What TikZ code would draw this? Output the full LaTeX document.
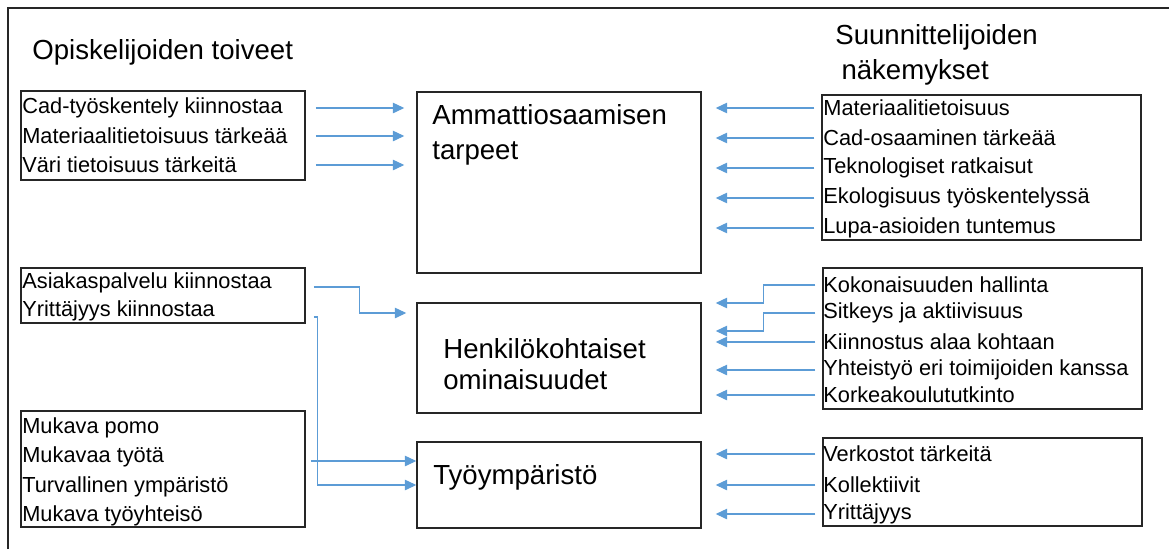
\documentclass[tikz,border=0pt]{standalone}
\usepackage{fontspec}
\setmainfont{Liberation Sans}
\usetikzlibrary{calc}
\usetikzlibrary{arrows.meta}
\definecolor{linkblue}{rgb}{0.36, 0.61, 0.84}
\definecolor{framegray}{rgb}{0.15, 0.15, 0.15}

\begin{document}
\begin{tikzpicture}[x=0.02cm,y=-0.02cm,
        box/.style={draw=framegray,line width=0.9pt,minimum width=5.68cm,inner sep=0pt},
        rbox/.style={box,minimum width=6.38cm},
        item/.style={anchor=west,inner sep=0pt,font=\fontsize{12.4}{14}\selectfont},
        head/.style={anchor=west,inner sep=0pt,align=left,font=\fontsize{15.7}{19.8}\selectfont},
        link/.style={linkblue,line width=0.6pt,-{Triangle[length=6.5pt,width=6pt]}}
    ]
        \useasboundingbox (0,0) rectangle (1169,549);
        \draw[framegray,line width=0.9pt] (8,549) -- (8,8) -- (1169,8);

        % headings
        \node[head] (toiveet) at (32,52) {Opiskelijoiden toiveet};
        \node[head] (nakemykset) at (835,55) {Suunnittelijoiden\\\hspace*{3.5pt}näkemykset};

        % middle boxes
        \node[box,minimum height=3.62cm] (ma) at (559,182.5) {};
        \node[box,minimum height=2.2cm] (mh) at (559,358) {};
        \node[box,minimum height=1.72cm] (mt) at (559,485) {};
        \node[head] (matext) at (432,134.5) {Ammattiosaamisen\\tarpeet};
        \node[head,font=\fontsize{15.7}{18}\selectfont] (mhtext) at (443,364) {Henkilökohtaiset\\ominaisuudet};
        \node[head] (mttext) at (433,477) {Työympäristö};

        % left boxes
        \node[box,minimum height=1.78cm] (lb1) at (163,135.5) {};
        \node[box,minimum height=1.1cm] (lb2) at (163,295.5) {};
        \node[box,minimum height=2.32cm] (lb3) at (163,469) {};
        \node[item] (l1a) at (22,108) {Cad-työskentely kiinnostaa};
        \node[item] (l1b) at (22,136) {Materiaalitietoisuus tärkeää};
        \node[item] (l1c) at (22,165) {Väri tietoisuus tärkeitä};
        \node[item] (l2a) at (22,283) {Asiakaspalvelu kiinnostaa};
        \node[item] (l2b) at (22,311) {Yrittäjyys kiinnostaa};
        \node[item] (l3a) at (22,428) {Mukava pomo};
        \node[item] (l3b) at (22,457) {Mukavaa työtä};
        \node[item] (l3c) at (22,487) {Turvallinen ympäristö};
        \node[item] (l3d) at (22,516) {Mukava työyhteisö};

        % right boxes
        \node[rbox,minimum height=2.9cm] (rb1) at (981.5,167.5) {};
        \node[rbox,minimum height=2.82cm] (rb2) at (982.5,338.5) {};
        \node[rbox,minimum height=1.76cm] (rb3) at (982.5,482) {};
        \node[item] (r1a) at (823,108) {Materiaalitietoisuus};
        \node[item] (r1b) at (823,138) {Cad-osaaminen tärkeää};
        \node[item] (r1c) at (823,168) {Teknologiset ratkaisut};
        \node[item] (r1d) at (823,198) {Ekologisuus työskentelyssä};
        \node[item] (r1e) at (823,228) {Lupa-asioiden tuntemus};
        \node[item] (r2a) at (823,285) {Kokonaisuuden hallinta};
        \node[item] (r2b) at (823,313) {Sitkeys ja aktiivisuus};
        \node[item] (r2c) at (823,342) {Kiinnostus alaa kohtaan};
        \node[item] (r2d) at (823,370) {Yhteistyö eri toimijoiden kanssa};
        \node[item] (r2e) at (823,395) {Korkeakoulututkinto};
        \node[item] (r3a) at (823,454) {Verkostot tärkeitä};
        \node[item] (r3b) at (823,485) {Kollektiivit};
        \node[item] (r3c) at (823,514) {Yrittäjyys};

        % arrows from the students
        \foreach \i in {l1a,l1b,l1c}
            \draw[link] ($(\i -| lb1.east)+(10,0)$) -- ($(\i -| ma.west)+(-12,0)$);
        \draw[link] ($(l2a -| lb2.east)+(8,4)$) -| ($(l2a -| lb2.east)+(54,30)$) -- ($(l2a -| mh.west)+(-10,30)$);
        \draw[link] ($(l2b -| lb2.east)+(8,6)$) -| ($(l2b -| lb2.east)+(12,174)$) -- ($(l2b -| mt.west)+(0,174)$);
        \draw[link] ($(l3b -| lb3.east)+(5,4)$) -- ($(l3b -| mt.west)+(0,4)$);

        % arrows from the designers
        \foreach \i in {r1a,r1b,r1c,r1d,r1e}
            \draw[link] ($(\i -| rb1.west)+(-7,0)$) -- ($(\i -| ma.east)+(14,0)$);
        \foreach \i in {r2a,r2b}
            \draw[link] ($(\i -| rb2.west)+(-7,0)$) -| ($(\i -| rb2.west)+(-59,18)$) -- ($(\i -| mh.east)+(14,18)$);
        \foreach \i in {r2c,r2d,r2e}
            \draw[link] ($(\i -| rb2.west)+(-7,0)$) -- ($(\i -| mh.east)+(14,0)$);
        \foreach \i in {r3a,r3b,r3c}
            \draw[link] ($(\i -| rb3.west)+(-7,0)$) -- ($(\i -| mt.east)+(14,0)$);
    \end{tikzpicture}
\end{document}
